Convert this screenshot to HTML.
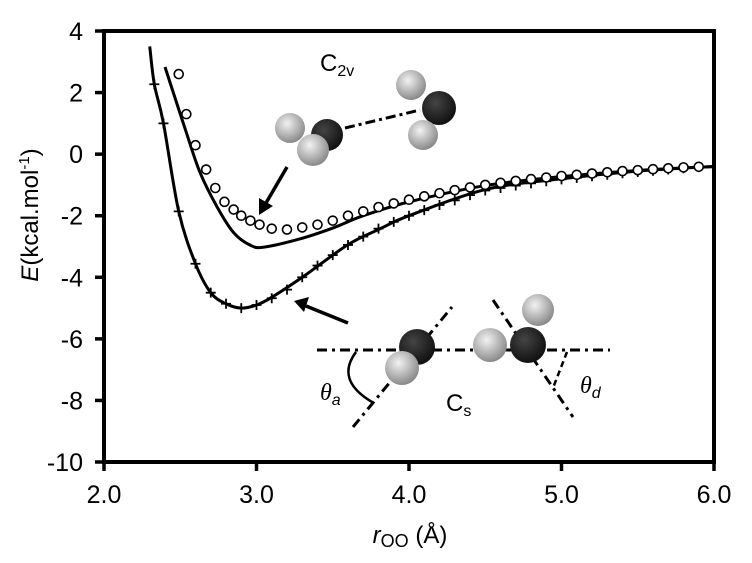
<!DOCTYPE html>
<html><head><meta charset="utf-8"><style>
body{margin:0;background:#fff;}
svg{display:block;font-family:"Liberation Sans",Arial,sans-serif;}
</style></head><body>
<svg id="chart" width="752" height="563" viewBox="0 0 752 563">
<defs>
<radialGradient id="lt" cx="40%" cy="35%" r="65%"><stop offset="0" stop-color="#f2f2f2"/><stop offset="1" stop-color="#8a8a8a"/></radialGradient>
<radialGradient id="dk" cx="40%" cy="35%" r="65%"><stop offset="0" stop-color="#444"/><stop offset="1" stop-color="#111"/></radialGradient>
</defs>
<g id="marks"></g>
<g id="axes"></g>
<g>
<text x="320" y="71" font-size="24">C<tspan font-size="16" dy="5">2v</tspan></text>
<line x1="345" y1="128" x2="420" y2="110" stroke="#000" stroke-width="3" stroke-dasharray="10,4,3,4"/>
<circle cx="290" cy="128" r="15" fill="url(#lt)"/>
<circle cx="327" cy="135" r="16" fill="url(#dk)"/>
<circle cx="313" cy="150" r="16" fill="url(#lt)"/>
<circle cx="411" cy="85" r="15" fill="url(#lt)"/>
<circle cx="439" cy="108" r="17" fill="url(#dk)"/>
<circle cx="423" cy="135" r="15" fill="url(#lt)"/>
<line x1="287" y1="167" x2="266" y2="203" stroke="#000" stroke-width="3.5"/>
<polygon points="259,215 259,198 273,206" fill="#000"/>
</g>
<g>
<line x1="348" y1="323" x2="306" y2="306" stroke="#000" stroke-width="3.5"/>
<polygon points="294,301 309,297 304,312" fill="#000"/>
<line x1="317" y1="350" x2="610" y2="350" stroke="#000" stroke-width="3" stroke-dasharray="10,5,3,5"/>
<line x1="353" y1="427" x2="452" y2="307" stroke="#000" stroke-width="3" stroke-dasharray="10,5,3,5"/>
<line x1="493" y1="300" x2="573" y2="417" stroke="#000" stroke-width="3" stroke-dasharray="10,5,3,5"/>
<line x1="567" y1="352" x2="553" y2="388" stroke="#000" stroke-width="2.5" stroke-dasharray="6,4"/>
<path d="M356,352 Q335,380 372,402" fill="none" stroke="#000" stroke-width="2.5"/>
<circle cx="417" cy="347" r="18" fill="url(#dk)"/>
<circle cx="402" cy="368" r="17" fill="url(#lt)"/>
<circle cx="490" cy="345" r="17" fill="url(#lt)"/>
<circle cx="538" cy="310" r="16" fill="url(#lt)"/>
<circle cx="528" cy="345" r="18" fill="url(#dk)"/>
<text x="320" y="400" font-size="24" font-style="italic" font-family="Liberation Serif,serif">θ<tspan font-size="16" dy="5" font-family="Liberation Sans,sans-serif">a</tspan></text>
<text x="446" y="411" font-size="24">C<tspan font-size="16" dy="5">s</tspan></text>
<text x="580" y="393" font-size="24" font-style="italic" font-family="Liberation Serif,serif">θ<tspan font-size="16" dy="5" font-family="Liberation Sans,sans-serif">d</tspan></text>
</g>
<text transform="translate(38,215) rotate(-90)" text-anchor="middle" font-size="24"><tspan font-style="italic">E</tspan>(kcal.mol<tspan font-size="15" dy="-9">-1</tspan><tspan dy="9">)</tspan></text>
<text x="410" y="543" text-anchor="middle" font-size="24"><tspan font-style="italic">r</tspan><tspan font-size="18" dy="4">OO</tspan><tspan dy="-4"> (Å)</tspan></text>
</svg>
<script>
const xTicks=[2.0,3.0,4.0,5.0,6.0];
const xTickLabels=["2.0","3.0","4.0","5.0","6.0"];
const yTicks=[4,2,0,-2,-4,-6,-8,-10];
const yTickLabels=["4","2","0","-2","-4","-6","-8","-10"];
const csLineR=[2.3,2.33,2.39,2.49,2.6,2.7,2.8,2.9,3.0,3.1,3.3,3.6,3.8,4.0,4.5,5.0,5.5,6.0];
const csLineE=[3.5,2.27,1.0,-1.86,-3.56,-4.5,-4.86,-5.0,-4.9,-4.65,-4.0,-2.94,-2.45,-2.0,-1.15,-0.8,-0.55,-0.4];
const c2vLineR=[2.4,2.54,2.63,2.74,2.85,2.96,3.05,3.28,3.5,3.7,4.0,4.5,5.0,5.5,6.0];
const c2vLineE=[2.83,0.7,-0.6,-1.7,-2.55,-2.96,-3.02,-2.76,-2.4,-2.0,-1.55,-1.02,-0.73,-0.53,-0.4];
const crossR=[2.33,2.39,2.49,2.6,2.7,2.8,2.9,3.0,3.1,3.2,3.3,3.4,3.5,3.6,3.7,3.8,3.9,4.0,4.1,4.2,4.3,4.4,4.5,4.6,4.7,4.8,4.9,5.0,5.1,5.2,5.3,5.4,5.5,5.6,5.7,5.8,5.9];
const crossE=[2.27,1.0,-1.86,-3.56,-4.5,-4.86,-5.0,-4.9,-4.68,-4.4,-4.0,-3.62,-3.28,-2.95,-2.68,-2.42,-2.2,-2.0,-1.82,-1.65,-1.5,-1.33,-1.18,-1.1,-1.02,-0.95,-0.88,-0.82,-0.77,-0.72,-0.67,-0.62,-0.58,-0.54,-0.5,-0.46,-0.42];
const circleR=[2.49,2.54,2.6,2.67,2.73,2.79,2.85,2.9,2.96,3.02,3.1,3.2,3.3,3.4,3.5,3.6,3.7,3.8,3.9,4.0,4.1,4.2,4.3,4.4,4.5,4.6,4.7,4.8,4.9,5.0,5.1,5.2,5.3,5.4,5.5,5.6,5.7,5.8,5.9];
const circleE=[2.6,1.3,0.29,-0.5,-1.1,-1.55,-1.8,-2.0,-2.16,-2.29,-2.42,-2.45,-2.38,-2.29,-2.16,-2.0,-1.86,-1.72,-1.6,-1.48,-1.37,-1.27,-1.17,-1.08,-1.0,-0.93,-0.87,-0.81,-0.76,-0.71,-0.67,-0.63,-0.59,-0.55,-0.52,-0.49,-0.46,-0.43,-0.41];

const L=104,R=714,T=31,B=462;
function X(v){return L+(v-2)/(6-2)*(R-L);}
function Y(e){return T+(4-e)/(4-(-10))*(B-T);}
const NS='http://www.w3.org/2000/svg';
const marks=document.getElementById('marks');
const axes=document.getElementById('axes');
function mk(tag,attrs,parent){const el=document.createElementNS(NS,tag);for(const k in attrs)el.setAttribute(k,attrs[k]);parent.appendChild(el);return el;}
function smooth(rs,es){
  const p=rs.map((r,i)=>[X(r),Y(es[i])]);
  let d='M'+p[0][0]+','+p[0][1];
  for(let i=0;i<p.length-1;i++){
    const p0=p[i-1]||p[i],p1=p[i],p2=p[i+1],p3=p[i+2]||p2;
    const c1=[p1[0]+(p2[0]-p0[0])/6,p1[1]+(p2[1]-p0[1])/6];
    const c2=[p2[0]-(p3[0]-p1[0])/6,p2[1]-(p3[1]-p1[1])/6];
    d+=' C'+c1[0]+','+c1[1]+' '+c2[0]+','+c2[1]+' '+p2[0]+','+p2[1];
  }
  return d;
}
let el;
el=mk('path',{d:smooth(csLineR,csLineE),fill:'none',stroke:'#000','stroke-width':3},marks);


el=mk('path',{d:smooth(c2vLineR,c2vLineE),fill:'none',stroke:'#000','stroke-width':3},marks);


crossR.forEach((r,i)=>{
  const x=X(r),y=Y(crossE[i]);
  const g=mk('path',{d:`M${x-5},${y}H${x+5}M${x},${y-5}V${y+5}`,stroke:'#000','stroke-width':1.8},marks);
  
  
});
circleR.forEach((r,i)=>{
  const c=mk('circle',{cx:X(r),cy:Y(circleE[i]),r:4.5,fill:'#fff',stroke:'#000','stroke-width':1.6},marks);
  
  
});
el=mk('rect',{x:L,y:T,width:R-L,height:B-T,fill:'none',stroke:'#000','stroke-width':4},axes);


xTicks.forEach((v,i)=>{
  const t=mk('line',{x1:X(v),x2:X(v),y1:B,y2:B+9,stroke:'#000','stroke-width':3.5},axes);
  
  
  const tx=mk('text',{x:X(v),y:B+41,'text-anchor':'middle','font-size':25},axes);
  tx.textContent=xTickLabels[i];
  
  
});
yTicks.forEach((v,i)=>{
  const t=mk('line',{x1:L-9,x2:L,y1:Y(v),y2:Y(v),stroke:'#000','stroke-width':3.5},axes);
  
  
  const tx=mk('text',{x:L-21,y:Y(v)+9,'text-anchor':'end','font-size':25},axes);
  tx.textContent=yTickLabels[i];
  
  
});
</script>
</body></html>
